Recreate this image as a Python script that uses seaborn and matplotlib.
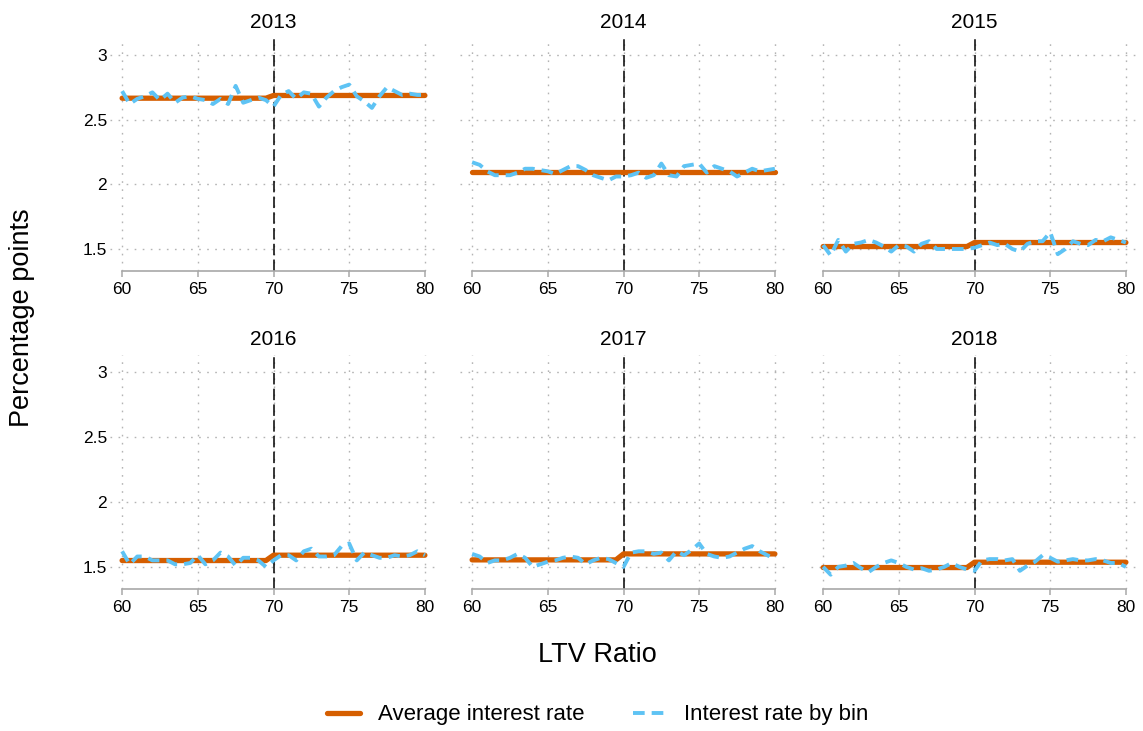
import numpy as np
import pandas as pd
import matplotlib
matplotlib.use("Agg")
import matplotlib.pyplot as plt
from matplotlib.lines import Line2D
import seaborn as sns

# ---- data -------------------------------------------------------------
years = [2013, 2014, 2015, 2016, 2017, 2018]
ltv_bins = np.arange(60.0, 80.01, 0.5)
threshold = 70

rate_2013 = [2.72, 2.62, 2.66, 2.68, 2.71, 2.65, 2.70, 2.63, 2.67, 2.68,
             2.66, 2.65, 2.62, 2.66, 2.62, 2.76, 2.63, 2.65, 2.67, 2.65,
             2.60, 2.69, 2.72, 2.66, 2.71, 2.70, 2.60, 2.67, 2.72, 2.75,
             2.77, 2.68, 2.64, 2.59, 2.68, 2.75, 2.72, 2.69, 2.70, 2.69, 2.69]
rate_2014 = [2.17, 2.15, 2.10, 2.07, 2.07, 2.07, 2.09, 2.12, 2.12, 2.11,
             2.10, 2.08, 2.11, 2.14, 2.14, 2.11, 2.07, 2.05, 2.03, 2.06,
             2.06, 2.07, 2.09, 2.05, 2.07, 2.16, 2.07, 2.06, 2.14, 2.15,
             2.16, 2.09, 2.14, 2.12, 2.10, 2.06, 2.09, 2.12, 2.10, 2.11, 2.12]
rate_2015 = [1.53, 1.45, 1.57, 1.48, 1.54, 1.55, 1.57, 1.55, 1.52, 1.48,
             1.53, 1.52, 1.48, 1.54, 1.56, 1.50, 1.50, 1.50, 1.50, 1.50,
             1.51, 1.53, 1.55, 1.53, 1.54, 1.50, 1.48, 1.54, 1.56, 1.56,
             1.63, 1.46, 1.50, 1.56, 1.54, 1.53, 1.57, 1.56, 1.59, 1.57, 1.55]
rate_2016 = [1.62, 1.52, 1.58, 1.58, 1.55, 1.55, 1.55, 1.52, 1.52, 1.53,
             1.59, 1.52, 1.55, 1.61, 1.58, 1.51, 1.57, 1.57, 1.55, 1.50,
             1.55, 1.59, 1.59, 1.55, 1.62, 1.64, 1.58, 1.58, 1.59, 1.66,
             1.68, 1.55, 1.61, 1.59, 1.57, 1.57, 1.59, 1.58, 1.59, 1.62, 1.59]
rate_2017 = [1.60, 1.58, 1.53, 1.55, 1.55, 1.57, 1.60, 1.57, 1.50, 1.52,
             1.54, 1.55, 1.57, 1.58, 1.57, 1.52, 1.55, 1.57, 1.56, 1.53,
             1.50, 1.61, 1.62, 1.62, 1.60, 1.61, 1.55, 1.62, 1.59, 1.63,
             1.68, 1.60, 1.58, 1.57, 1.58, 1.61, 1.64, 1.66, 1.62, 1.59, 1.56]
rate_2018 = [1.50, 1.44, 1.50, 1.51, 1.53, 1.49, 1.46, 1.50, 1.53, 1.55,
             1.53, 1.50, 1.48, 1.49, 1.47, 1.48, 1.50, 1.53, 1.50, 1.48,
             1.47, 1.55, 1.56, 1.56, 1.55, 1.56, 1.47, 1.51, 1.54, 1.59,
             1.57, 1.54, 1.55, 1.56, 1.55, 1.55, 1.56, 1.55, 1.53, 1.53, 1.50]

# average rate below / above the 70% LTV threshold
avg_below = [2.665, 2.098, 1.519, 1.549, 1.554, 1.495]
avg_above = [2.686, 2.098, 1.550, 1.590, 1.600, 1.536]

x_ticks = [60, 65, 70, 75, 80]
y_ticks = [1.5, 2, 2.5, 3]
y_tick_labels = ["1.5", "2", "2.5", "3"]

rates = [rate_2013, rate_2014, rate_2015, rate_2016, rate_2017, rate_2018]
frames = []
for yr, r, lo, hi in zip(years, rates, avg_below, avg_above):
    frames.append(pd.DataFrame({
        "year": yr,
        "ltv": ltv_bins,
        "rate": r,
        "avg": np.where(ltv_bins < threshold, lo, hi),
    }))
df = pd.concat(frames, ignore_index=True)

# ---- style ------------------------------------------------------------
sns.set_theme(style="white")
plt.rcParams["font.family"] = ["Liberation Sans", "DejaVu Sans"]
plt.rcParams["text.color"] = "black"
plt.rcParams["axes.labelcolor"] = "black"
plt.rcParams["xtick.color"] = "black"
plt.rcParams["ytick.color"] = "black"

ORANGE = "#D55E00"
BLUE = "#5EC3F4"
GRID = "#b4b4b4"
SPINE = "#a8a8a8"

W, H = 1143, 731
fig = plt.figure(figsize=(W / 100, H / 100), dpi=100)

col_left = [110, 460, 811]
row_top = [38, 355]
row_bottom = [271, 589]
ax_w = 327

for i, yr in enumerate(years):
    r, c = divmod(i, 3)
    ax = fig.add_axes([col_left[c] / W, 1 - row_bottom[r] / H,
                       ax_w / W, (row_bottom[r] - row_top[r]) / H])
    sub = df[df["year"] == yr]

    ax.axvline(threshold, color="black", lw=1.1, ls=(0, (7.5, 2.8)), zorder=2)
    sns.lineplot(data=sub, x="ltv", y="avg", ax=ax, color=ORANGE, lw=3.8,
                 zorder=3)
    sns.lineplot(data=sub, x="ltv", y="rate", ax=ax, color=BLUE, lw=2.8,
                 linestyle=(0, (3, 1.8)), zorder=4)

    ax.set_xlim(59.2, 80.8)
    ax.set_ylim(1.33, 3.13)
    ax.set_xticks(x_ticks)
    ax.set_yticks(y_ticks)
    ax.set_yticklabels(y_tick_labels)
    ax.grid(True, color=GRID, lw=1.0, ls=(0, (1.2, 4.6)))
    ax.set_axisbelow(True)

    for side in ("left", "top", "right"):
        ax.spines[side].set_visible(False)
    ax.spines["bottom"].set_color(SPINE)
    ax.spines["bottom"].set_linewidth(1.2)
    ax.spines["bottom"].set_bounds(60, 80)

    ax.tick_params(axis="x", bottom=True, length=4, width=1.1, color=SPINE,
                   labelsize=12.5, pad=4, labelcolor="black")
    ax.tick_params(axis="y", left=False, length=0, labelsize=12.5, pad=2,
                   labelcolor="black", labelleft=(c == 0))
    ax.set_xlabel("")
    ax.set_ylabel("")
    ax.set_title(str(yr), fontsize=15, pad=7, color="black")

fig.text(0.019, 0.566, "Percentage points", rotation=90, ha="center",
         va="center", fontsize=19.5, color="black")
fig.text(0.5228, 0.104, "LTV Ratio", ha="center", va="center",
         fontsize=19.5, color="black")

handles = [
    Line2D([], [], color=ORANGE, lw=3.8),
    Line2D([], [], color=BLUE, lw=2.8, ls=(0, (3, 1.8))),
]
leg = fig.legend(handles, ["Average interest rate", "Interest rate by bin"],
                 loc="center", bbox_to_anchor=(0.5228, 0.022), ncol=2,
                 frameon=False, fontsize=16, handlelength=1.5,
                 handletextpad=0.8, columnspacing=2.2)
for t in leg.get_texts():
    t.set_color("black")

fig.savefig("out.png", dpi=100)
